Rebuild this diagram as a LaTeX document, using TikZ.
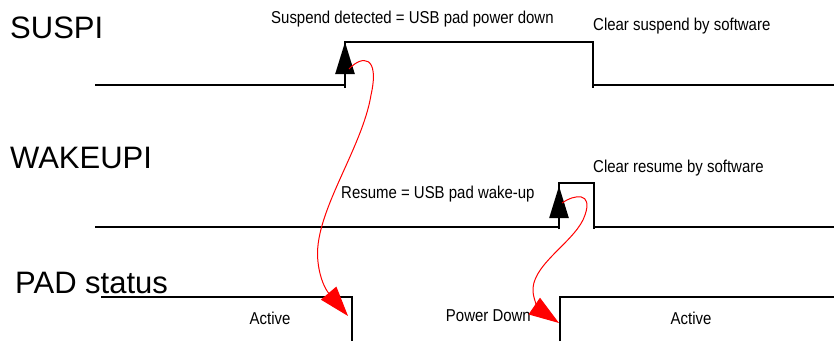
\documentclass[tikz,border=0pt]{standalone}
\usepackage{fontspec}
\setmainfont{Liberation Sans}
\newfontfamily\narrowfont[FakeStretch=0.87]{Liberation Sans}
\usetikzlibrary{arrows.meta}
\definecolor{wire}{HTML}{000000}
\definecolor{flow}{HTML}{FF0000}

\begin{document}
\begin{tikzpicture}[x=1pt,y=-1pt,
    sig/.style={draw=wire,line width=2.4pt},
    siglabel/.style={anchor=base west,inner sep=0pt,font=\fontsize{31}{31}\selectfont},
    note/.style={anchor=base west,inner sep=0pt,font=\narrowfont\fontsize{17.2}{17.2}\selectfont},
    edgetip/.style={sig,-{Triangle[length=32pt,width=19pt]}},
    cause/.style={draw=flow,line width=1pt,-{Triangle[length=30pt,width=20pt]},fill=none}]
        \useasboundingbox (0,0) rectangle (834,341);
        % signal names
        \node[siglabel] (suspi) at (10,38) {SUSPI};
        \node[siglabel] (wakeupi) at (10,168) {WAKEUPI};
        \node[siglabel] (pad) at (15,293) {PAD status};
        % SUSPI
        \draw[sig] (95,85) -- (345,85);
        \draw[sig] (345,88) -- (345,42) -- (593,42) -- (593,88);
        \draw[sig] (593,85) -- (834,85);
        \draw[edgetip] (345,85) -- (345,42);
        \node[note] (susdet) at (271,23) {Suspend detected = USB pad power down};
        \node[note] (susclr) at (593,30) {Clear suspend by software};
        % WAKEUPI
        \draw[sig] (95,227) -- (559,227);
        \draw[sig] (559,229) -- (559,183) -- (594,183) -- (594,229);
        \draw[sig] (594,227) -- (834,227);
        \draw[edgetip] (559,227) -- (559,186);
        \node[note] (resume) at (341,198) {Resume = USB pad wake-up};
        \node[note] (resclr) at (593,172) {Clear resume by software};
        % PAD status
        \draw[sig] (101,297) -- (352,297) -- (352,341);
        \draw[sig] (560,341) -- (560,297) -- (834,297);
        \node[note,anchor=base] (act1) at (270,324) {Active};
        \node[note,anchor=base east] (pwrdn) at (531,321) {Power Down};
        \node[note,anchor=base] (act2) at (691,324) {Active};
        % cause and effect
        \coordinate (susfrom) at (349,69);
        \coordinate (padoff) at (348,316);
        \coordinate (resfrom) at (562,203);
        \coordinate (padon) at (559,323);
        \draw[cause] (susfrom) .. controls (362,55) and (380,55) .. (371,95)
          .. controls (362,150) and (312,215) .. (318,262)
          .. controls (320,280) and (326,290) .. (padoff);
        \draw[cause] (resfrom) .. controls (575,194) and (593,192) .. (585,215)
          .. controls (577,240) and (535,262) .. (533,288)
          .. controls (532,298) and (540,310) .. (padon);
\end{tikzpicture}
\end{document}
